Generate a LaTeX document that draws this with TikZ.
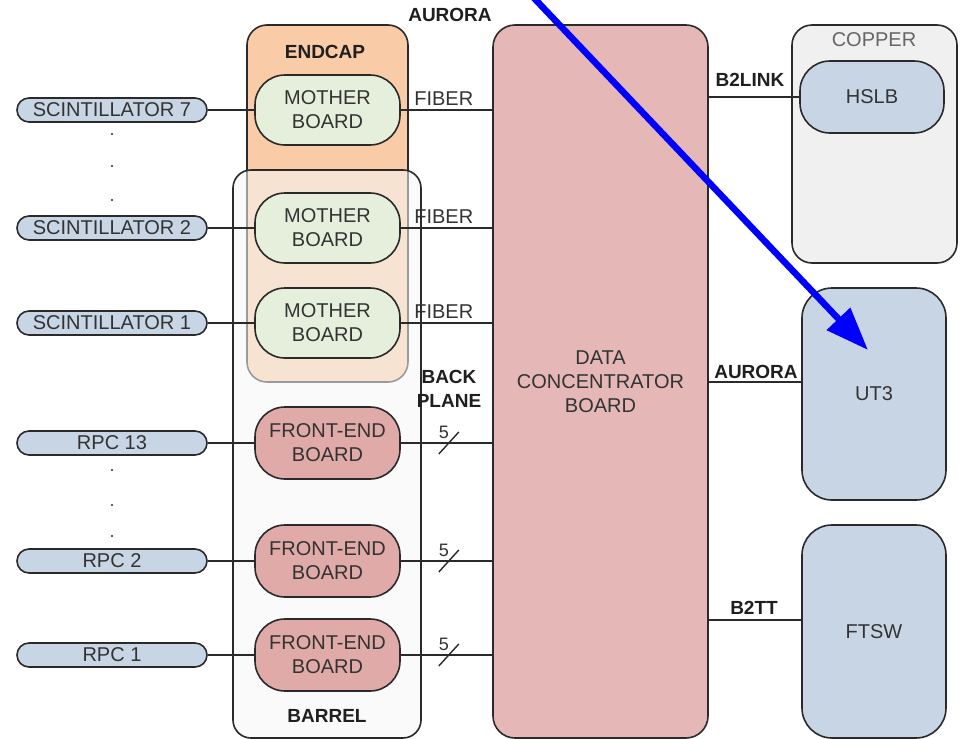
\documentclass[tikz,border=0pt]{standalone}
\usepackage{fontspec}
\setmainfont{Liberation Sans}
\usetikzlibrary{arrows.meta,calc}
\definecolor{endcapc}{HTML}{F9CBA7}
\definecolor{barrelc}{HTML}{F7F7F7}
\definecolor{motherc}{HTML}{E6EEDC}
\definecolor{fec}{HTML}{E0AAA8}
\definecolor{dcc}{HTML}{E5B8B7}
\definecolor{bluec}{HTML}{C8D5E5}
\definecolor{copperc}{HTML}{F0F0F0}
\definecolor{linec}{HTML}{2A2A2A}
\definecolor{txtc}{HTML}{333333}
\begin{document}
\begin{tikzpicture}[x=1pt,y=-1pt,
  box/.style={draw=linec, line width=1.6pt, inner sep=0pt, text=txtc, align=center,
    font=\fontsize{20}{24}\selectfont},
  pill/.style={box, fill=bluec, minimum width=190pt, minimum height=24pt, rounded corners=12pt},
  mother/.style={box, fill=motherc, minimum width=145pt, minimum height=70pt, rounded corners=30pt},
  feboard/.style={box, fill=fec, minimum width=145pt, minimum height=72pt, rounded corners=30pt},
  unit/.style={box, fill=bluec, minimum width=144pt, rounded corners=30pt},
  lbl/.style={font=\fontsize{19}{24}\selectfont\bfseries, text=black!88, inner sep=0pt, align=center},
  flbl/.style={font=\fontsize{20}{24}\selectfont, text=txtc, inner sep=0pt},
  conn/.style={draw=linec, line width=1.6pt},
  slash/.style={draw=linec, line width=1.4pt}]
\useasboundingbox (0,0) rectangle (962,739);
\fill[white] (0,0) rectangle (962,739);

% containers
\node[box, fill=endcapc, minimum width=161pt, minimum height=357pt, rounded corners=20pt] (endcap) at (327.5,203.5) {};
\node[box, fill=barrelc, fill opacity=0.55, minimum width=188pt, minimum height=568pt, rounded corners=18pt] (barrel) at (327,454) {};
\node[lbl] (endcaplbl) at (325,52) {ENDCAP};
\node[lbl] (barrellbl) at (327,716) {BARREL};

% data concentrator
\node[box, fill=dcc, minimum width=215pt, minimum height=713pt, rounded corners=22pt] (dc) at (600.5,381.5) {DATA\\CONCENTRATOR\\BOARD};

% copper
\node[box, fill=copperc, minimum width=165pt, minimum height=238pt, rounded corners=20pt] (copper) at (874.5,144) {};
\node[flbl, text=black!60] (copperlbl) at (874,40) {COPPER};
\node[unit, minimum height=72pt] (hslb) at (872,97) {HSLB};
\node[unit, minimum height=212pt] (ut3) at (874,394) {UT3};
\node[unit, minimum height=213pt] (ftsw) at (874,631.5) {FTSW};

% sources
\node[pill] (sc7) at (112,110) {SCINTILLATOR 7};
\node[pill] (sc2) at (112,228) {SCINTILLATOR 2};
\node[pill] (sc1) at (112,323) {SCINTILLATOR 1};
\node[pill] (rpc13) at (112,443) {RPC 13};
\node[pill] (rpc2) at (112,561) {RPC 2};
\node[pill] (rpc1) at (112,655) {RPC 1};
\foreach \y in {134,166,200,470,505,536} \fill[linec] (112,\y) circle (1.2pt);

% boards
\node[mother] (mb1) at (327.5,110) {MOTHER\\BOARD};
\node[mother] (mb2) at (327.5,228) {MOTHER\\BOARD};
\node[mother] (mb3) at (327.5,323) {MOTHER\\BOARD};
\node[feboard] (fe1) at (327.5,443) {FRONT-END\\BOARD};
\node[feboard] (fe2) at (327.5,561) {FRONT-END\\BOARD};
\node[feboard] (fe3) at (327.5,655) {FRONT-END\\BOARD};

% connectors left
\foreach \s/\b in {sc7/mb1, sc2/mb2, sc1/mb3, rpc13/fe1, rpc2/fe2, rpc1/fe3}{
  \draw[conn] (\s.east) -- (\b.west);
  \draw[conn] (\b.east) -- (\b.east -| dc.west);
}
\foreach \b in {mb1, mb2, mb3}
  \node[flbl] at ([xshift=43pt,yshift=11pt]\b.east) {FIBER};
\foreach \b in {fe1, fe2, fe3}{
  \draw[slash] ([xshift=48pt]\b.east) ++(-10,11) -- ++(20,-22);
  \node[flbl, font=\fontsize{18}{20}\selectfont] at ([xshift=43pt,yshift=11pt]\b.east) {5};
}
\node[lbl] (aurtop) at (450,15) {AURORA};
\node[lbl] (backplane) at (449,389) {BACK\\PLANE};

% connectors right
\draw[conn] (hslb.west -| dc.east) -- (hslb.west);
\draw[conn] ([yshift=12pt]ut3.west -| dc.east) -- ([yshift=12pt]ut3.west);
\draw[conn] ([yshift=11.5pt]ftsw.west -| dc.east) -- ([yshift=11.5pt]ftsw.west);
\node[lbl] (b2link) at (750,80) {B2LINK};
\node[lbl] (aurright) at (756,372) {AURORA};
\node[lbl] (b2tt) at (754,608) {B2TT};

% blue annotation arrow
\coordinate (arrowstart) at (533,-3);
\coordinate (arrowtip) at (868,350);
\draw[blue, line width=6.5pt, -{Triangle[length=43pt,width=31pt]}] (arrowstart) -- (arrowtip);
\end{tikzpicture}
\end{document}
